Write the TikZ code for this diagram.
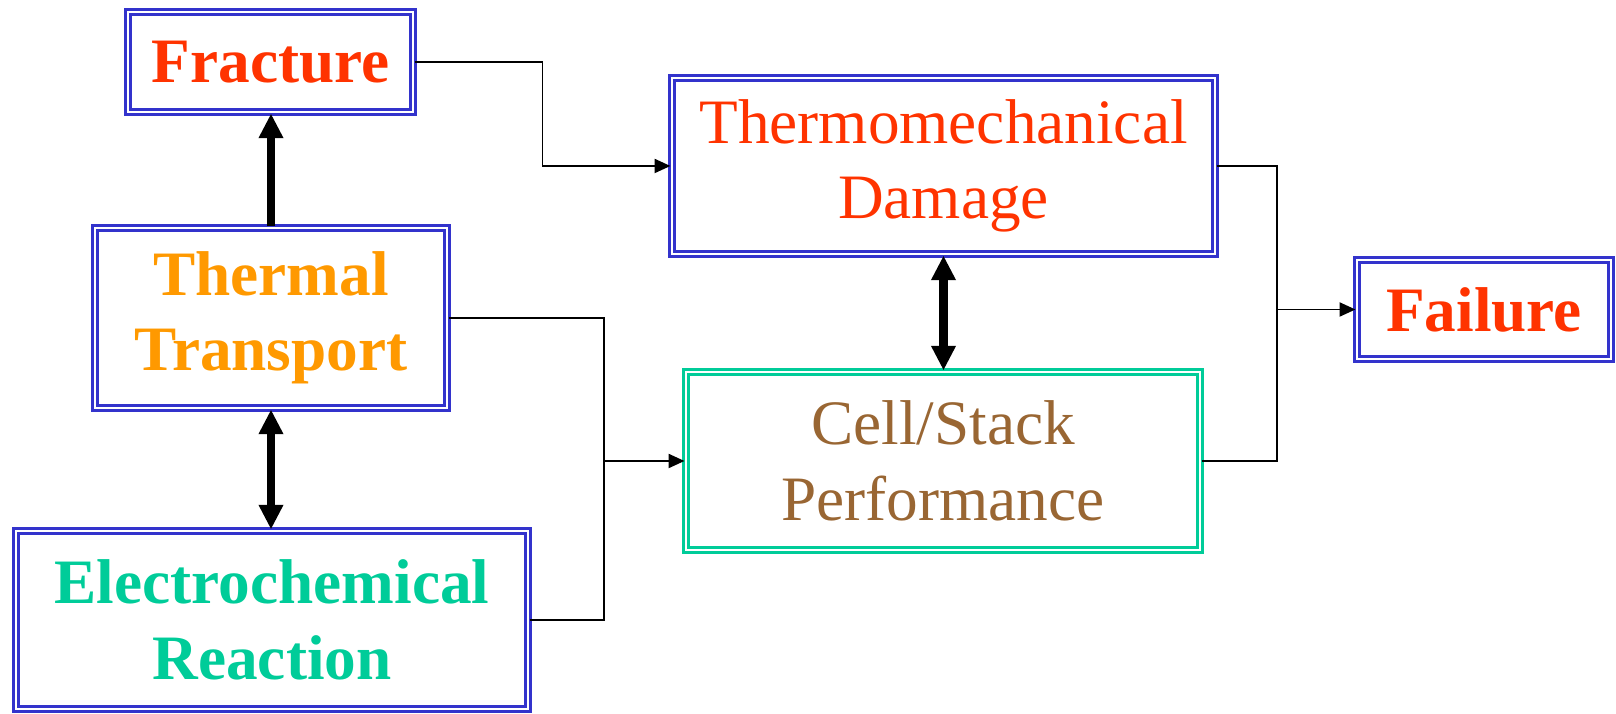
\documentclass[tikz,border=0pt]{standalone}
\usepackage{fontspec}
\setmainfont{Liberation Serif}
\usetikzlibrary{arrows.meta}
\definecolor{boxblue}{HTML}{3333CC}
\definecolor{redorange}{HTML}{FF3300}
\definecolor{heatorange}{HTML}{FF9900}
\definecolor{seagreen}{HTML}{00CC99}
\definecolor{brownish}{HTML}{996633}
\tikzset{
  blk/.style={draw=boxblue, double, line width=0.9pt, double distance=0.6pt,
    align=center, font=\fontsize{18}{21.5}\selectfont, inner sep=0pt},
  wire/.style={line width=0.5pt},
  fat/.style={line width=2.3pt, arrows={-Triangle[length=7pt,width=6.6pt]}},
  fatboth/.style={line width=2.3pt, arrows={Triangle[length=7pt,width=6.6pt]-Triangle[length=7pt,width=6.6pt]}}
}
\begin{document}
\begin{tikzpicture}[>={Triangle[length=4.5pt,width=4pt]}]
  \useasboundingbox (0,0) rectangle (16.16,-7.14);
  \node[blk, minimum width=2.85cm, minimum height=1.00cm, text=redorange] (fracture) at (2.705,-0.62) {\textbf{Fracture}};
  \node[blk, minimum width=5.43cm, minimum height=1.76cm, text=redorange] (thermo) at (9.435,-1.66) {Thermomechanical\\Damage};
  \node[blk, minimum width=2.54cm, minimum height=0.99cm, text=redorange] (failure) at (14.84,-3.095) {\textbf{Failure}};
  \node[blk, minimum width=3.52cm, minimum height=1.80cm, text=heatorange] (thermal) at (2.71,-3.18) {\textbf{Thermal}\\\textbf{Transport}};
  \node[blk, draw=seagreen, minimum width=5.14cm, minimum height=1.78cm, text=brownish] (cell) at (9.43,-4.61) {Cell/Stack\\Performance};
  \node[blk, minimum width=5.12cm, minimum height=1.78cm, text=seagreen] (electro) at (2.72,-6.20) {\textbf{Electrochemical}\\\textbf{Reaction}};
  \coordinate (jl) at (6.04,-4.61);
  \coordinate (jr) at (12.77,-3.095);
  \draw[wire, ->] (fracture.east) -- ++(1.28,0) |- (thermo.west);
  \draw[wire] (thermal.east) -| (jl);
  \draw[wire] (electro.east) -| (jl);
  \draw[wire, ->] (jl) -- (cell.west);
  \draw[wire] (thermo.east) -| (jr);
  \draw[wire] (cell.east) -| (jr);
  \draw[wire, ->] (jr) -- (failure.west);
  \draw[fat] (thermal.north) -- (thermal.north |- fracture.south);
  \draw[fatboth] (thermal.south) -- (thermal.south |- electro.north);
  \draw[fatboth] (thermo.south) -- (thermo.south |- cell.north);
\end{tikzpicture}
\end{document}
